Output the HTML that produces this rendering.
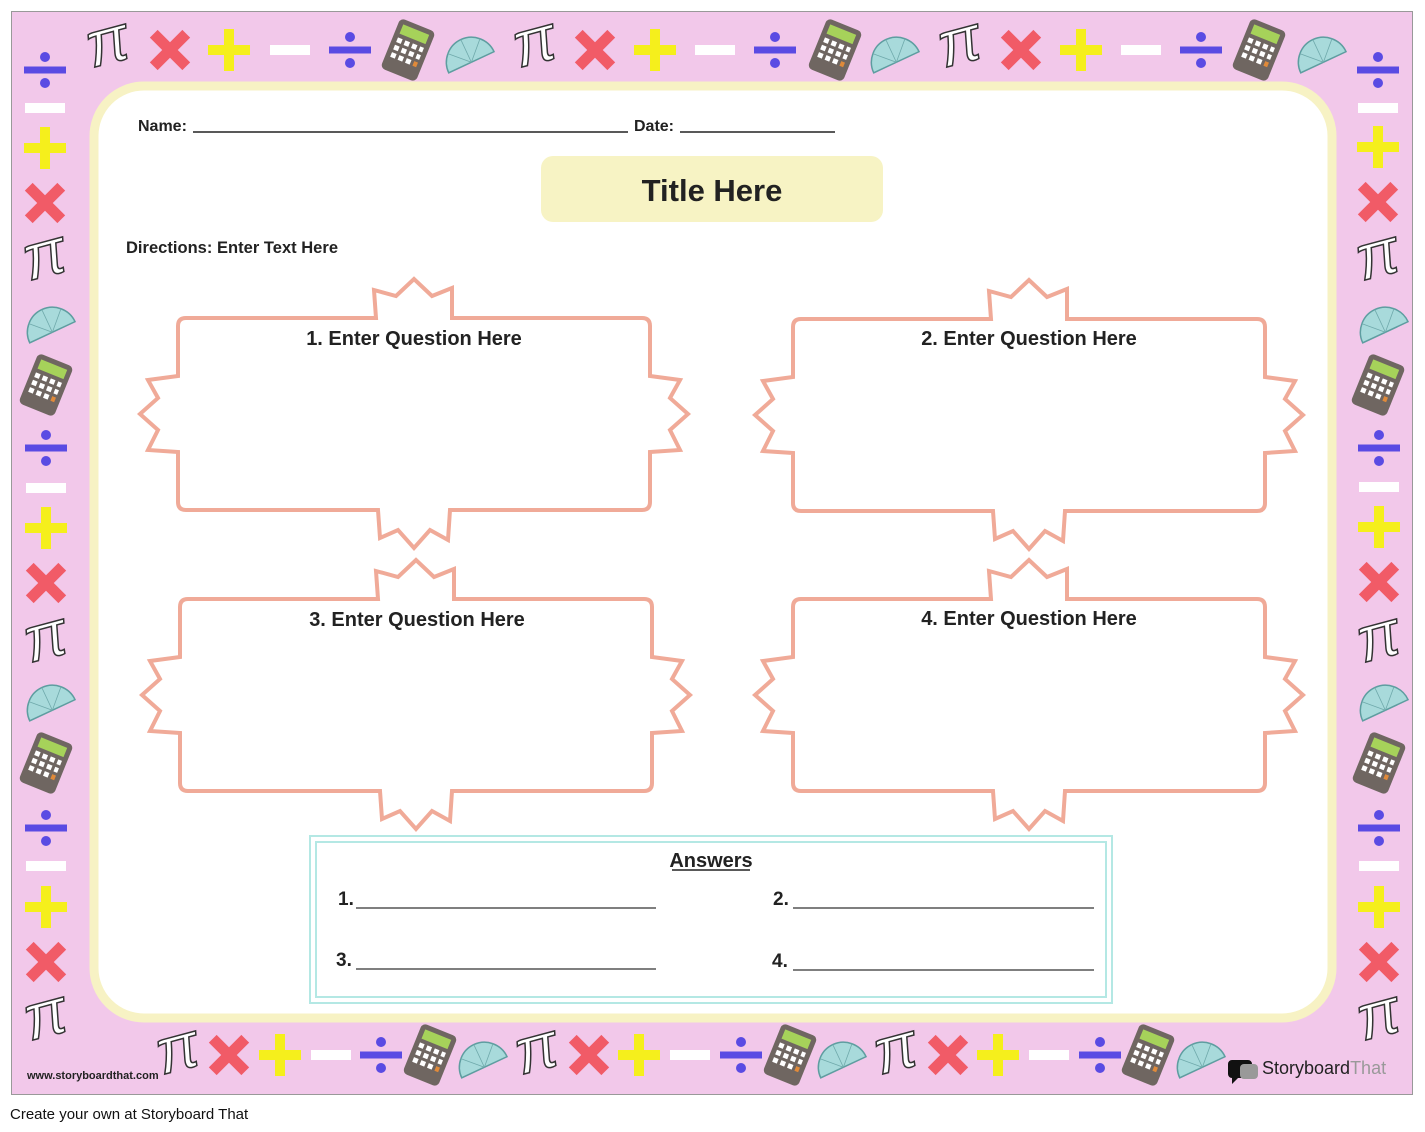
<!DOCTYPE html>
<html><head><meta charset="utf-8"><style>
html,body{margin:0;padding:0;background:#fff;width:1425px;height:1132px;overflow:hidden}
svg text{font-family:"Liberation Sans",sans-serif}
</style></head><body>
<svg width="1425" height="1132" viewBox="0 0 1425 1132" xmlns="http://www.w3.org/2000/svg">
<defs>
<g id="dv"><rect x="-21" y="-3.5" width="42" height="7" fill="#5a4be3"/><circle cx="0" cy="-13" r="5" fill="#5a4be3"/><circle cx="0" cy="13" r="5" fill="#5a4be3"/></g>
<g id="mn"><rect x="-20" y="-5" width="40" height="10" fill="#fff"/></g>
<g id="pl"><rect x="-21" y="-5" width="42" height="10" fill="#f5ef1c"/><rect x="-5" y="-21" width="10" height="42" fill="#f5ef1c"/></g>
<g id="xx"><rect x="-23" y="-5.5" width="46" height="11" fill="#f15b67" transform="rotate(45)"/><rect x="-23" y="-5.5" width="46" height="11" fill="#f15b67" transform="rotate(-45)"/></g>
<g id="pi"><text x="0" y="18" text-anchor="middle" font-size="64" font-family="Liberation Serif,serif" font-style="italic" fill="#fff" stroke="#333" stroke-width="1.5" transform="rotate(-15)">π</text></g>
<g id="ca"><g transform="rotate(22)"><rect x="-19" y="-27" width="38" height="54" rx="5" fill="#6f6661"/><rect x="-14" y="-22" width="28" height="10" fill="#a6d25a"/>
<g fill="#fff"><rect x="-14" y="-8" width="5" height="5"/><rect x="-6" y="-8" width="5" height="5"/><rect x="2" y="-8" width="5" height="5"/><rect x="10" y="-8" width="4" height="5"/>
<rect x="-14" y="0" width="5" height="5"/><rect x="-6" y="0" width="5" height="5"/><rect x="2" y="0" width="5" height="5"/><rect x="10" y="0" width="4" height="5"/>
<rect x="-14" y="8" width="5" height="5"/><rect x="-6" y="8" width="5" height="5"/><rect x="2" y="8" width="5" height="5"/><rect x="10" y="8" width="4" height="5" fill="#e08a3a"/></g></g></g>
<g id="pr"><g transform="rotate(-25)"><path d="M-25,8 A25,25 0 0 1 25,8 Z" fill="#a8dadb" stroke="#5e9da0" stroke-width="1.5"/><path d="M0,8 L-18,-10 M0,8 L0,-17 M0,8 L18,-10" stroke="#6fa9ab" stroke-width="0.8"/></g></g>
<path id="st" d="M-228,-96 L-38,-96 L-40,-124 L-18,-118 L0,-135 L18,-118 L38,-126 L38,-96 L228,-96 Q236,-96 236,-88 L236,-38 L266,-34 L256,-16 L274,0 L256,16 L266,36 L236,38 L236,88 Q236,96 228,96 L36,96 L34,126 L16,116 L0,134 L-16,116 L-34,124 L-36,96 L-228,96 Q-236,96 -236,88 L-236,38 L-266,36 L-256,16 L-274,0 L-256,-16 L-266,-34 L-236,-38 L-236,-88 Q-236,-96 -228,-96 Z" fill="#fff" stroke="#f0aa98" stroke-width="4"/>
</defs>
<rect x="11.5" y="11.5" width="1401" height="1083" fill="#f2c8ea" stroke="#999" stroke-width="1"/>
<rect x="94" y="86" width="1238" height="932" rx="50" fill="#fff" stroke="#f7f2c4" stroke-width="9"/>
<use href="#dv" x="45" y="70"/><use href="#pi" x="108" y="45"/><use href="#xx" x="170" y="50"/><use href="#pl" x="229" y="50"/><use href="#mn" x="290" y="50"/><use href="#dv" x="350" y="50"/><use href="#ca" x="408" y="50"/><use href="#pr" x="468" y="55"/>
<use href="#pi" x="535" y="45"/><use href="#xx" x="595" y="50"/><use href="#pl" x="655" y="50"/><use href="#mn" x="715" y="50"/><use href="#dv" x="775" y="50"/><use href="#ca" x="835" y="50"/><use href="#pr" x="893" y="55"/>
<use href="#pi" x="960" y="45"/><use href="#xx" x="1021" y="50"/><use href="#pl" x="1081" y="50"/><use href="#mn" x="1141" y="50"/><use href="#dv" x="1201" y="50"/><use href="#ca" x="1259" y="50"/><use href="#pr" x="1320" y="55"/><use href="#dv" x="1378" y="70"/>
<use href="#mn" x="45" y="108"/><use href="#pl" x="45" y="148"/><use href="#xx" x="45" y="203"/><use href="#pi" x="45" y="258"/><use href="#pr" x="49" y="325"/><use href="#ca" x="46" y="385"/><use href="#dv" x="46" y="448"/><use href="#mn" x="46" y="488"/><use href="#pl" x="46" y="528"/><use href="#xx" x="46" y="583"/><use href="#pi" x="46" y="640"/><use href="#pr" x="49" y="703"/><use href="#ca" x="46" y="763"/><use href="#dv" x="46" y="828"/><use href="#mn" x="46" y="866"/><use href="#pl" x="46" y="907"/><use href="#xx" x="46" y="962"/><use href="#pi" x="46" y="1018"/>
<use href="#mn" x="1378" y="108"/><use href="#pl" x="1378" y="147"/><use href="#xx" x="1378" y="202"/><use href="#pi" x="1378" y="258"/><use href="#pr" x="1382" y="325"/><use href="#ca" x="1378" y="385"/><use href="#dv" x="1379" y="448"/><use href="#mn" x="1379" y="487"/><use href="#pl" x="1379" y="527"/><use href="#xx" x="1379" y="582"/><use href="#pi" x="1379" y="640"/><use href="#pr" x="1382" y="703"/><use href="#ca" x="1379" y="763"/><use href="#dv" x="1379" y="828"/><use href="#mn" x="1379" y="866"/><use href="#pl" x="1379" y="907"/><use href="#xx" x="1379" y="962"/><use href="#pi" x="1379" y="1018"/>
<use href="#pi" x="178" y="1052"/><use href="#xx" x="229" y="1055"/><use href="#pl" x="280" y="1055"/><use href="#mn" x="331" y="1055"/><use href="#dv" x="381" y="1055"/><use href="#ca" x="430" y="1055"/><use href="#pr" x="481" y="1060"/>
<use href="#pi" x="537" y="1052"/><use href="#xx" x="589" y="1055"/><use href="#pl" x="639" y="1055"/><use href="#mn" x="690" y="1055"/><use href="#dv" x="741" y="1055"/><use href="#ca" x="790" y="1055"/><use href="#pr" x="840" y="1060"/>
<use href="#pi" x="896" y="1052"/><use href="#xx" x="948" y="1055"/><use href="#pl" x="998" y="1055"/><use href="#mn" x="1049" y="1055"/><use href="#dv" x="1100" y="1055"/><use href="#ca" x="1148" y="1055"/><use href="#pr" x="1199" y="1060"/>
<text x="138" y="131" font-size="16" font-weight="bold" fill="#222">Name:</text>
<line x1="193" y1="132" x2="628" y2="132" stroke="#222" stroke-width="1.5"/>
<text x="634" y="131" font-size="16" font-weight="bold" fill="#222">Date:</text>
<line x1="680" y1="132" x2="835" y2="132" stroke="#222" stroke-width="1.5"/>
<rect x="541" y="156" width="342" height="66" rx="12" fill="#f7f3c4"/>
<text x="712" y="201" font-size="31" font-weight="bold" text-anchor="middle" fill="#222">Title Here</text>
<text x="126" y="253" font-size="16.5" font-weight="bold" fill="#222" textLength="212">Directions: Enter Text Here</text>
<use href="#st" x="414" y="414"/><use href="#st" x="1029" y="415"/><use href="#st" x="416" y="695"/><use href="#st" x="1029" y="695"/>
<g font-size="20" font-weight="bold" fill="#222" text-anchor="middle">
<text x="414" y="345">1. Enter Question Here</text>
<text x="1029" y="345">2. Enter Question Here</text>
<text x="417" y="626">3. Enter Question Here</text>
<text x="1029" y="625">4. Enter Question Here</text>
</g>
<rect x="310" y="836" width="802" height="167" fill="#fff" stroke="#b4e8e4" stroke-width="2"/>
<rect x="316" y="842" width="790" height="155" fill="none" stroke="#b4e8e4" stroke-width="2"/>
<text x="711" y="867" font-size="20" font-weight="bold" text-anchor="middle" fill="#222">Answers</text>
<line x1="672" y1="870" x2="750" y2="870" stroke="#222" stroke-width="1.5"/>
<g font-size="19" font-weight="bold" fill="#222">
<text x="338" y="905">1.</text><text x="773" y="905">2.</text><text x="336" y="966">3.</text><text x="772" y="967">4.</text>
</g>
<g stroke="#333" stroke-width="1.2">
<line x1="356" y1="908" x2="656" y2="908"/><line x1="793" y1="908" x2="1094" y2="908"/>
<line x1="356" y1="969" x2="656" y2="969"/><line x1="793" y1="970" x2="1094" y2="970"/>
</g>
<text x="27" y="1079" font-size="11" font-weight="bold" fill="#222" font-family="Liberation Serif,serif">www.storyboardthat.com</text>
<path d="M1230,1060 h18 a4,4 0 0 1 4,4 v10 a4,4 0 0 1 -4,4 h-10 l-6,6 v-6 a4,4 0 0 1 -4,-4 v-10 a4,4 0 0 1 4,-4z" fill="#111"/>
<rect x="1240" y="1064" width="18" height="15" rx="4" fill="#999"/>
<text x="1262" y="1074" font-size="18" fill="#222">Storyboard<tspan fill="#999">That</tspan></text>
<text x="10" y="1119" font-size="15" fill="#111">Create your own at Storyboard That</text>
</svg>
</body></html>
